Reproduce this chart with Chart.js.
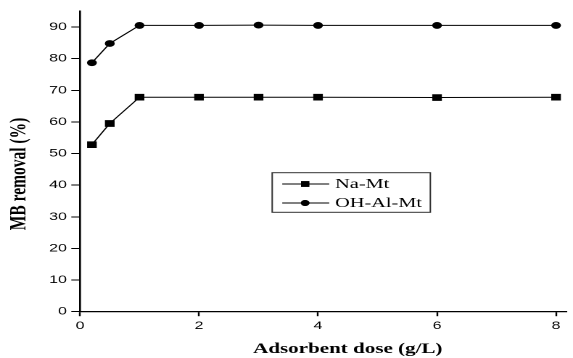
<!DOCTYPE html>
<html>
<head>
<meta charset="utf-8">
<script src="https://cdn.jsdelivr.net/npm/chart.js@4/dist/chart.umd.min.js"></script>
<style>
  html, body { margin: 0; padding: 0; background: #fff; overflow: hidden; }
  #wrap { width: 395px; height: 358px; transform: scaleX(1.4506); transform-origin: 0 0; }
  canvas { display: block; }
</style>
</head>
<body>
<div id="wrap"><canvas id="c" width="395" height="358"></canvas></div>
<script>
// Adsorbent dose (g/L)
const doses = [0.2, 0.5, 1, 2, 3, 4, 6, 8];
// MB removal (%)
const naMt   = [52.8, 59.5, 67.8, 67.8, 67.8, 67.8, 67.7, 67.8];
const ohAlMt = [78.7, 84.8, 90.5, 90.5, 90.6, 90.5, 90.5, 90.5];

const seriesNames = ['Na-Mt', 'OH-Al-Mt'];
const xTicks = [0, 2, 4, 6, 8];
const yTicks = [0, 10, 20, 30, 40, 50, 60, 70, 80, 90];
const xTitle = 'Adsorbent dose (g/L)';
const yTitle = 'MB removal (%)';

const pts = arr => doses.map((d, i) => ({ x: d, y: arr[i] }));

// Axis titles and boxed legend
const decorations = {
  id: 'decorations',
  afterDraw(chart) {
    const ctx = chart.ctx;
    const ca = chart.chartArea;
    const xs = chart.scales.x;
    ctx.save();
    ctx.fillStyle = '#000';

    // x title
    ctx.font = 'bold 14.5px "Liberation Serif", "Times New Roman", serif';
    ctx.textAlign = 'center';
    ctx.textBaseline = 'alphabetic';
    ctx.fillText(xTitle, xs.getPixelForValue(4.5), 353);

    // y title
    ctx.save();
    ctx.font = 'bold 15.5px "Liberation Serif", "Times New Roman", serif';
    ctx.translate(13.3, 174);
    ctx.rotate(-Math.PI / 2);
    ctx.textBaseline = 'middle';
    ctx.fillText(yTitle, 0, 0);
    ctx.restore();

    // legend
    const bx = ca.left + 132.5, by = ca.top + 161.5, bw = 109, bh = 39.6;
    ctx.strokeStyle = '#333';
    ctx.lineWidth = 1;
    ctx.strokeRect(bx, by, bw, bh);
    const rows = [by + 11.3, by + 30.3];
    const styles = ['rect', 'circle'];
    chart.data.datasets.forEach((ds, i) => {
      const y = rows[i];
      ctx.strokeStyle = '#000';
      ctx.lineWidth = 1;
      ctx.beginPath();
      ctx.moveTo(bx + 6.9, y);
      ctx.lineTo(bx + 39.3, y);
      ctx.stroke();
      Chart.helpers.drawPoint(ctx, {
        pointStyle: styles[i], radius: styles[i] === 'rect' ? 4.0 : 3.0,
        borderWidth: 0, rotation: 0
      }, bx + 22.7, y);
      ctx.fillStyle = '#000';
      ctx.fill();
      ctx.font = '14px "Liberation Serif", "Times New Roman", serif';
      ctx.textAlign = 'left';
      ctx.textBaseline = 'middle';
      ctx.fillText(ds.label, bx + 43.4, y + 0.5);
    });
    ctx.restore();
  }
};

new Chart(document.getElementById('c'), {
  type: 'scatter',
  data: {
    datasets: [
      {
        label: seriesNames[0], data: pts(naMt), showLine: true,
        borderColor: '#000', borderWidth: 1, backgroundColor: '#000',
        pointStyle: 'rect', pointRadius: 4.7, pointBorderWidth: 0
      },
      {
        label: seriesNames[1], data: pts(ohAlMt), showLine: true,
        borderColor: '#000', borderWidth: 1, backgroundColor: '#000',
        pointStyle: 'circle', pointRadius: 3.4, pointBorderWidth: 0
      }
    ]
  },
  options: {
    responsive: false,
    animation: false,
    devicePixelRatio: 2,
    layout: { padding: { top: 11.2, right: 0, bottom: 0, left: 0 } },
    plugins: { legend: { display: false }, tooltip: { enabled: false } },
    scales: {
      x: {
        type: 'linear', min: 0, max: 8.17,
        afterBuildTicks: s => { s.ticks = xTicks.map(v => ({ value: v })); },
        afterFit: s => { s.height = 46.3; },
        grid: { drawOnChartArea: false, tickLength: 4.5, tickColor: '#000', tickWidth: 1.2 },
        border: { display: true, color: '#000', width: 1.2 },
        ticks: { color: '#000', padding: 3, maxRotation: 0,
                 font: { family: '"Liberation Sans", Arial, sans-serif', size: 11 } }
      },
      y: {
        type: 'linear', min: 0, max: 95,
        afterBuildTicks: s => { s.ticks = yTicks.map(v => ({ value: v })); },
        afterFit: s => { s.width = 55.15; },
        grid: { drawOnChartArea: false, tickLength: 6, tickColor: '#000', tickWidth: 1 },
        border: { display: true, color: '#000', width: 1.3 },
        ticks: { color: '#000', padding: 3,
                 font: { family: '"Liberation Sans", Arial, sans-serif', size: 11 } }
      }
    }
  },
  plugins: [decorations]
});
</script>
</body>
</html>
